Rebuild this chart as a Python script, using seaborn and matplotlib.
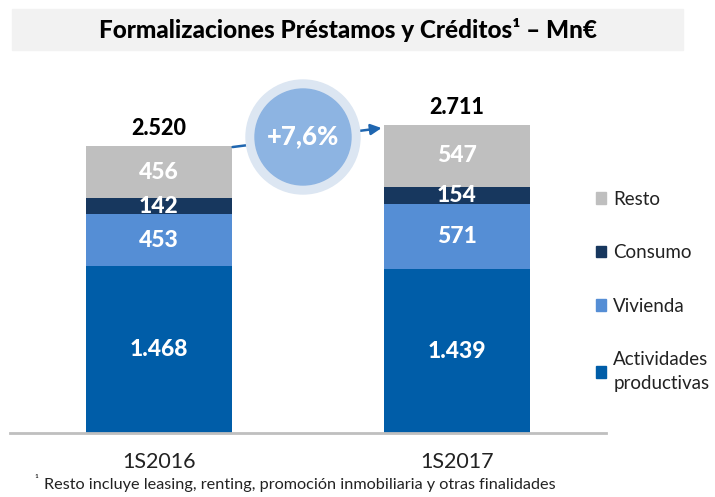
import numpy as np
import pandas as pd
import matplotlib.pyplot as plt
import seaborn as sns
from matplotlib.patches import Patch, Rectangle, Ellipse

# data (Mn EUR)
periods = ['1S2016', '1S2017']
actividades = [1468, 1439]
vivienda = [453, 571]
consumo = [142, 154]
resto = [456, 547]
totals = [2520, 2711]
variacion = '+7,6%'

series_names = ['Actividades\nproductivas', 'Vivienda', 'Consumo', 'Resto']
series_vals = [actividades, vivienda, consumo, resto]
colors = ['#005DA8', '#558ED5', '#17375E', '#BFBFBF']

sns.set_style('white')
plt.rcParams['font.family'] = ['Lato', 'DejaVu Sans']

fig = plt.figure(figsize=(7.15, 4.97), dpi=100)
ax = fig.add_axes([10/715, 64/497, 596/715, 373/497])

df = pd.DataFrame({'periodo': periods})
cum = np.cumsum(np.array(series_vals), axis=0)
# draw from the top layer down so each cumulative bar covers the one before
for i in range(len(series_vals) - 1, -1, -1):
    df['v'] = cum[i]
    sns.barplot(data=df, x='periodo', y='v', color=colors[i], width=0.49,
                saturation=1, ax=ax, linewidth=0)

for j in range(len(periods)):
    bottom = 0
    for i, vals in enumerate(series_vals):
        mid = bottom + vals[j] / 2
        ax.text(j, mid, f'{vals[j]:,}'.replace(',', '.'), ha='center', va='center',
                color='white', fontsize=16.5, fontweight='black')
        bottom += vals[j]
    ax.text(j, totals[j] + 60, f'{totals[j]:,}'.replace(',', '.'), ha='center',
            va='bottom', color='black', fontsize=15.5, fontweight='black')

ax.annotate('', xy=(0.747, 2680), xytext=(0.247, 2513),
            arrowprops=dict(arrowstyle='-|>', color='#1F66B0', lw=1.8,
                            mutation_scale=16, shrinkA=0, shrinkB=0))

ax.set_xlim(-0.5, 1.5)
ax.set_ylim(0, 3278)
ax.set_xlabel('')
ax.set_ylabel('')
ax.set_yticks([])
sns.despine(ax=ax, left=True)
ax.spines['bottom'].set_color('#BFBFBF')
ax.spines['bottom'].set_linewidth(2)
ax.tick_params(axis='x', length=0, pad=14, labelsize=15.5, colors='#222222')

# title box
fig.patches.append(Rectangle((12/715, 1 - 50/497), 671/715, 41/497,
                             transform=fig.transFigure, color='#F2F2F2', zorder=0))
fig.text(348/715, 1 - 30/497, 'Formalizaciones Préstamos y Créditos¹ – Mn€',
         ha='center', va='center', fontsize=17.5, fontweight='black', color='black')

# growth bubble
fig.patches.append(Ellipse((303/715, 1 - 137/497), 114/715, 114/497,
                           transform=fig.transFigure, color='#DCE6F2', zorder=5))
fig.patches.append(Ellipse((303/715, 1 - 137/497), 96/715, 96/497,
                           transform=fig.transFigure, color='#8DB4E2', zorder=6))
fig.text(303/715, 1 - 136/497, variacion, ha='center', va='center',
         color='white', fontsize=18.5, fontweight='black', zorder=7)

handles = [Patch(color=colors[i], label=series_names[i]) for i in range(3, -1, -1)]
leg = fig.legend(handles=handles, loc='upper left', bbox_to_anchor=(588/715, 1 - 183/497),
                 frameon=False, fontsize=13.5, handlelength=0.55, handleheight=0.55,
                 handletextpad=0.4, labelspacing=1.95, borderaxespad=0)
for t in leg.get_texts():
    t.set_linespacing(1.5)
    t.set_color('#222222')

fig.text(34/715, 11/497, '¹', fontsize=8.5, va='bottom', color='#222222')
fig.text(44/715, 5/497, 'Resto incluye leasing, renting, promoción inmobiliaria y otras finalidades',
         fontsize=11.7, va='bottom', color='#222222')

fig.savefig('out.png', dpi=100)
